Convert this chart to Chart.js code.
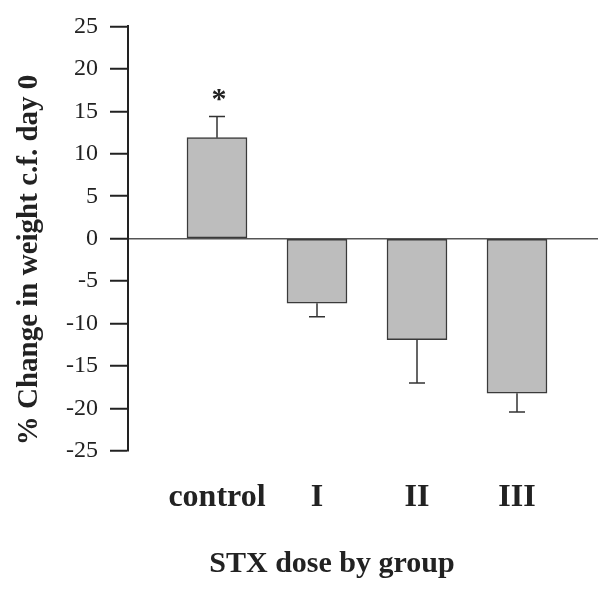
<!DOCTYPE html>
<html>
<head>
<meta charset="utf-8">
<script src="https://cdn.jsdelivr.net/npm/chart.js@4"></script>
<style>
  html, body { margin: 0; padding: 0; background: #fff; }
  #wrap { width: 600px; height: 591px; }
</style>
</head>
<body>
<div id="wrap"><canvas id="chart" width="600" height="591"></canvas></div>
<script>
const GROUPS = ['control', 'I', 'II', 'III'];
const MEAN_CHANGE = [11.9, -7.6, -11.9, -18.2];
const ERROR = [2.5, 1.6, 5.1, 2.2];
const SIGNIFICANT = [true, false, false, false];
const Y_MIN = -25;
const Y_MAX = 25;
const Y_STEP = 5;

const SERIF = "'Liberation Serif', 'Times New Roman', serif";
const INK = '#222';

Chart.defaults.font.family = SERIF;

const points = GROUPS.map((g, i) => ({ x: i + 1, y: MEAN_CHANGE[i] }));

// one-sided error bars plus the significance star
const errorBars = {
  id: 'errorBars',
  afterDatasetsDraw(chart) {
    const { ctx, scales: { x, y } } = chart;
    ctx.save();
    ctx.strokeStyle = '#333';
    ctx.lineWidth = 1.5;
    GROUPS.forEach((g, i) => {
      const sign = MEAN_CHANGE[i] >= 0 ? 1 : -1;
      const px = x.getPixelForValue(i + 1);
      const y0 = y.getPixelForValue(MEAN_CHANGE[i]);
      const y1 = y.getPixelForValue(MEAN_CHANGE[i] + sign * ERROR[i]);
      ctx.beginPath();
      ctx.moveTo(px, y0);
      ctx.lineTo(px, y1);
      ctx.moveTo(px - 8, y1);
      ctx.lineTo(px + 8, y1);
      ctx.stroke();
      if (SIGNIFICANT[i]) {
        ctx.fillStyle = INK;
        ctx.font = `bold 30px ${SERIF}`;
        ctx.textAlign = 'center';
        ctx.textBaseline = 'alphabetic';
        ctx.fillText('*', px + 2, y1 - 8);
      }
    });
    ctx.restore();
  },
};

// axis titles, placed where the original figure has them
const axisTitles = {
  id: 'axisTitles',
  afterDraw(chart) {
    const { ctx } = chart;
    ctx.save();
    ctx.fillStyle = INK;
    ctx.textAlign = 'center';
    ctx.textBaseline = 'alphabetic';
    ctx.font = `bold 30px ${SERIF}`;
    ctx.fillText('STX dose by group', 332, 572);
    ctx.translate(37, 260);
    ctx.rotate(-Math.PI / 2);
    ctx.font = `bold 29px ${SERIF}`;
    ctx.fillText('% Change in weight c.f. day 0', 0, 0);
    ctx.restore();
  },
};

new Chart(document.getElementById('chart'), {
  type: 'bar',
  data: {
    datasets: [{
      data: points,
      backgroundColor: '#bdbdbd',
      borderColor: '#3a3a3a',
      borderWidth: 1.5,
      borderSkipped: false,
      barThickness: 60,
    }],
  },
  options: {
    responsive: false,
    animation: false,
    layout: { padding: { top: 18, right: 2, left: 0, bottom: 0 } },
    plugins: {
      legend: { display: false },
      tooltip: { enabled: false },
    },
    scales: {
      x: {
        type: 'linear',
        offset: false,
        min: 0.11,
        max: 4.81,
        afterBuildTicks: (s) => { s.ticks = GROUPS.map((g, i) => ({ value: i + 1 })); },
        afterFit: (s) => { s.height = 140; },
        grid: { display: false, offset: false },
        border: { display: false },
        ticks: {
          color: INK,
          padding: 20,
          font: { family: SERIF, size: 32, weight: 'bold' },
          callback: (v) => GROUPS[v - 1] ?? '',
        },
      },
      y: {
        min: Y_MIN,
        max: Y_MAX,
        afterFit: (s) => { s.width = 128; },
        grid: {
          drawOnChartArea: true,
          color: (c) => (c.tick && c.tick.value === 0 ? '#555' : 'rgba(0,0,0,0)'),
          lineWidth: 1.5,
          tickColor: INK,
          tickLength: 18,
          tickWidth: 2,
        },
        border: { color: INK, width: 2 },
        ticks: {
          stepSize: Y_STEP,
          color: INK,
          padding: 12,
          font: { family: SERIF, size: 24, weight: 'normal' },
        },
      },
    },
  },
  plugins: [errorBars, axisTitles],
});
</script>
</body>
</html>
